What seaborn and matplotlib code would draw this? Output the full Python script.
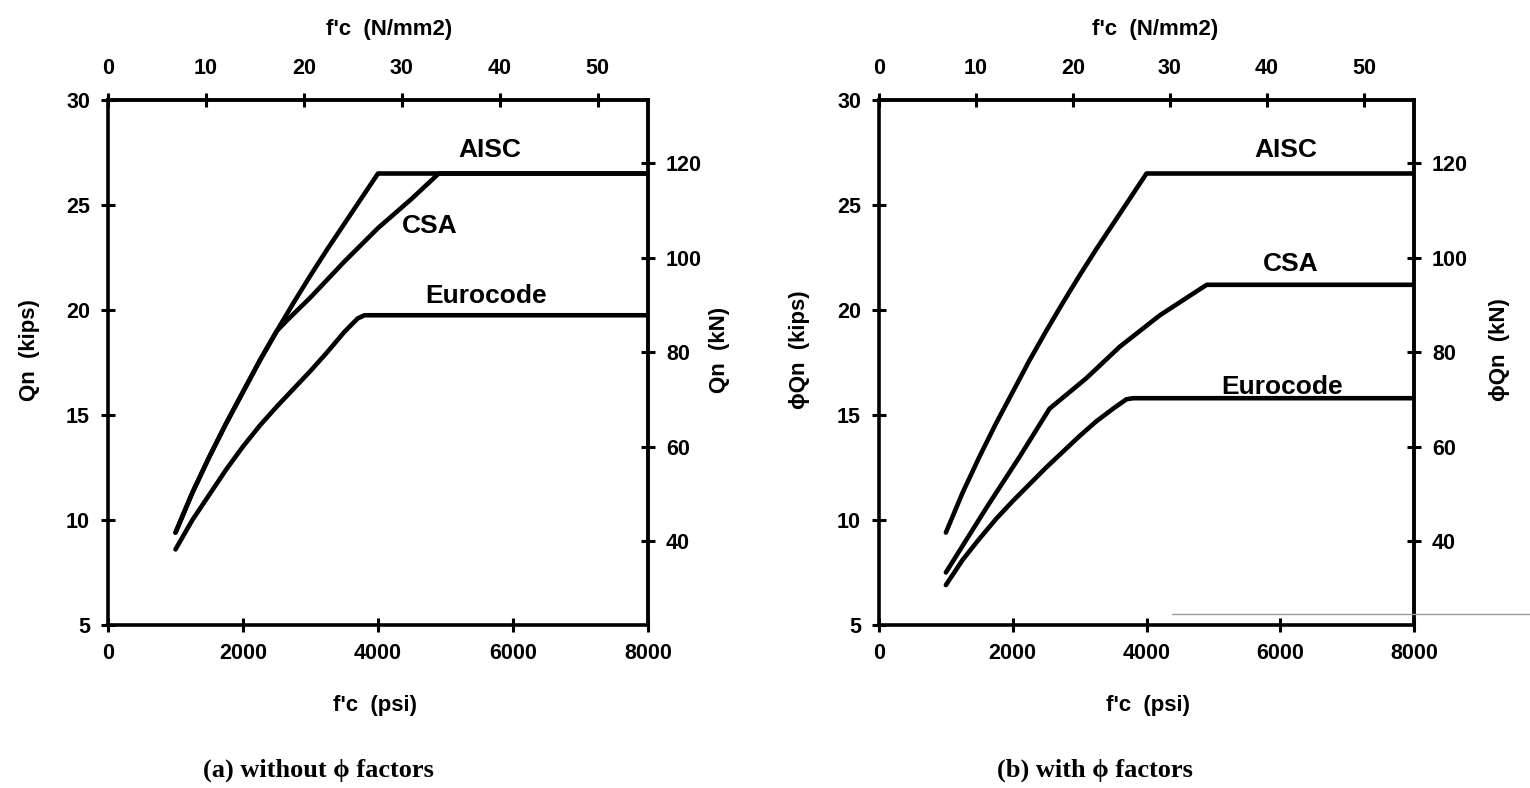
import matplotlib
matplotlib.use("Agg")
import matplotlib.pyplot as plt
from matplotlib.lines import Line2D
import seaborn as sns
import pandas as pd

# ---------------- data ----------------
fc_psi_aisc = [1000, 1250, 1500, 1750, 2000, 2250, 2500, 2750, 3000, 3250, 3500, 3750, 4000, 8000]
qn_aisc     = [9.4, 11.3, 13.0, 14.6, 16.1, 17.6, 19.0, 20.35, 21.65, 22.9, 24.1, 25.3, 26.5, 26.5]

# (a) without phi factors
fc_psi_csa_a = [1000, 1250, 1500, 1750, 2000, 2250, 2500, 2650, 3000, 3500, 4000, 4500, 4900, 8000]
qn_csa_a     = [9.4, 11.3, 13.0, 14.6, 16.1, 17.6, 19.0, 19.5, 20.6, 22.3, 23.9, 25.3, 26.5, 26.5]

fc_psi_euro_a = [1000, 1250, 1500, 1750, 2000, 2250, 2500, 2750, 3000, 3250, 3500, 3700, 3800, 8000]
qn_euro_a     = [8.6, 10.0, 11.2, 12.4, 13.5, 14.5, 15.4, 16.25, 17.1, 18.0, 18.95, 19.6, 19.75, 19.75]

# (b) with phi factors
fc_psi_csa_b = [1000, 1600, 2100, 2550, 3100, 3600, 4200, 4900, 8000]
qn_csa_b     = [7.5, 10.55, 13.0, 15.3, 16.75, 18.25, 19.75, 21.2, 21.2]

fc_psi_euro_b = [1000, 1250, 1500, 1750, 2000, 2250, 2500, 2750, 3000, 3250, 3500, 3700, 3800, 8000]
qn_euro_b     = [6.9, 8.1, 9.1, 10.05, 10.9, 11.7, 12.5, 13.25, 14.0, 14.7, 15.3, 15.75, 15.8, 15.8]

x_ticks_psi = [0, 2000, 4000, 6000, 8000]
y_ticks_kips = [5, 10, 15, 20, 25, 30]
x_ticks_mpa = [0, 10, 20, 30, 40, 50]
y_ticks_kn = [40, 60, 80, 100, 120]

captions = ["(a) without \u03d5 factors", "(b) with \u03d5 factors"]
ylabels = ["Qn  (kips)", "\u03d5Qn  (kips)"]
ylabels_r = ["Qn  (kN)", "\u03d5Qn  (kN)"]
xlabel_bottom = "f'c  (psi)"
xlabel_top = "f'c  (N/mm2)"

# ---------------- helpers ----------------
PSI2MPA = 0.006894757
KIP2KN = 4.448222

def psi2mpa(x):
    return x * PSI2MPA

def mpa2psi(x):
    return x / PSI2MPA

def kip2kn(y):
    return y * KIP2KN

def kn2kip(y):
    return y / KIP2KN

sns.set_theme(style="white")
SANS = ["Liberation Sans", "DejaVu Sans"]
SERIF = ["Liberation Serif", "DejaVu Serif"]
plt.rcParams["font.family"] = SANS
plt.rcParams["text.color"] = "black"
plt.rcParams["axes.labelcolor"] = "black"
plt.rcParams["xtick.color"] = "black"
plt.rcParams["ytick.color"] = "black"

W, H = 1530, 788
fig = plt.figure(figsize=(W / 100, H / 100), dpi=100)

def fx(px):
    return px / W

def fy(py):
    return 1 - py / H

panels = [
    dict(x0=108, x1=648,
         series=[(fc_psi_aisc, qn_aisc), (fc_psi_csa_a, qn_csa_a), (fc_psi_euro_a, qn_euro_a)],
         labels=[("AISC", 5650, 27.6), ("CSA", 4770, 24.0), ("Eurocode", 5600, 20.65)],
         cap_x=318, ylab_x=30, ylabr_x=720, top_x=389, bot_x=375),
    dict(x0=879, x1=1414,
         series=[(fc_psi_aisc, qn_aisc), (fc_psi_csa_b, qn_csa_b), (fc_psi_euro_b, qn_euro_b)],
         labels=[("AISC", 6090, 27.6), ("CSA", 6150, 22.2), ("Eurocode", 6030, 16.35)],
         cap_x=1095, ylab_x=800, ylabr_x=1500, top_x=1155, bot_x=1148),
]

TOP, BOT = 100, 625
tick_kw = dict(direction="inout", length=10, width=2.2, colors="black", labelsize=15.5)

for i, p in enumerate(panels):
    ax = fig.add_axes([fx(p["x0"]), fy(BOT), (p["x1"] - p["x0"]) / W, (BOT - TOP) / H])
    for (xs, ys) in p["series"]:
        df = pd.DataFrame({"fc": xs, "q": ys})
        sns.lineplot(data=df, x="fc", y="q", ax=ax, color="black", linewidth=3.3,
                     sort=False, estimator=None, solid_capstyle="round",
                     solid_joinstyle="round")
    for (txt, lx, ly) in p["labels"]:
        ax.text(lx, ly, txt, ha="center", va="center", fontsize=19,
                fontweight="bold", family=SANS, color="black")

    ax.set_xlim(0, 8000)
    ax.set_ylim(5, 30)
    ax.set_xticks(x_ticks_psi)
    ax.set_yticks(y_ticks_kips)
    ax.tick_params(axis="both", bottom=True, left=True, top=False, right=False,
                   **tick_kw, pad=8)
    for lab in ax.get_xticklabels() + ax.get_yticklabels():
        lab.set_fontweight("bold")
    for s in ax.spines.values():
        s.set_linewidth(2.6)
        s.set_color("black")
        s.set_visible(True)
    ax.grid(False)
    ax.set_xlabel("")
    ax.set_ylabel("")

    secx = ax.secondary_xaxis("top", functions=(psi2mpa, mpa2psi))
    secx.set_xticks(x_ticks_mpa)
    secx.tick_params(axis="x", top=True, **tick_kw, pad=10)
    for lab in secx.get_xticklabels():
        lab.set_fontweight("bold")
    secx.spines["top"].set_linewidth(2.6)

    secy = ax.secondary_yaxis("right", functions=(kip2kn, kn2kip))
    secy.set_yticks(y_ticks_kn)
    secy.tick_params(axis="y", right=True, **tick_kw, pad=8)
    for lab in secy.get_yticklabels():
        lab.set_fontweight("bold")
    secy.spines["right"].set_linewidth(2.6)

    # axis titles placed at their reference positions
    fig.text(fx(p["bot_x"]), fy(705), xlabel_bottom, ha="center", va="center",
             fontsize=16, fontweight="bold")
    fig.text(fx(p["top_x"]), fy(30), xlabel_top, ha="center", va="center",
             fontsize=16, fontweight="bold")
    fig.text(fx(p["ylab_x"]), fy(350), ylabels[i], ha="center", va="center",
             rotation=90, fontsize=16, fontweight="bold", family=SANS)
    fig.text(fx(p["ylabr_x"]), fy(350), ylabels_r[i], ha="center", va="center",
             rotation=90, fontsize=16, fontweight="bold", family=SANS)

    fig.text(fx(p["cap_x"]), fy(770), captions[i], ha="center", va="center",
             fontsize=19, fontweight="bold", family=SERIF)

# faint scan line present in the reference
fig.add_artist(Line2D([fx(1172), fx(1530)], [fy(614), fy(614)], color="#9a9a9a",
                      linewidth=1.0, transform=fig.transFigure))

fig.savefig("out.png", dpi=100, facecolor="white")
